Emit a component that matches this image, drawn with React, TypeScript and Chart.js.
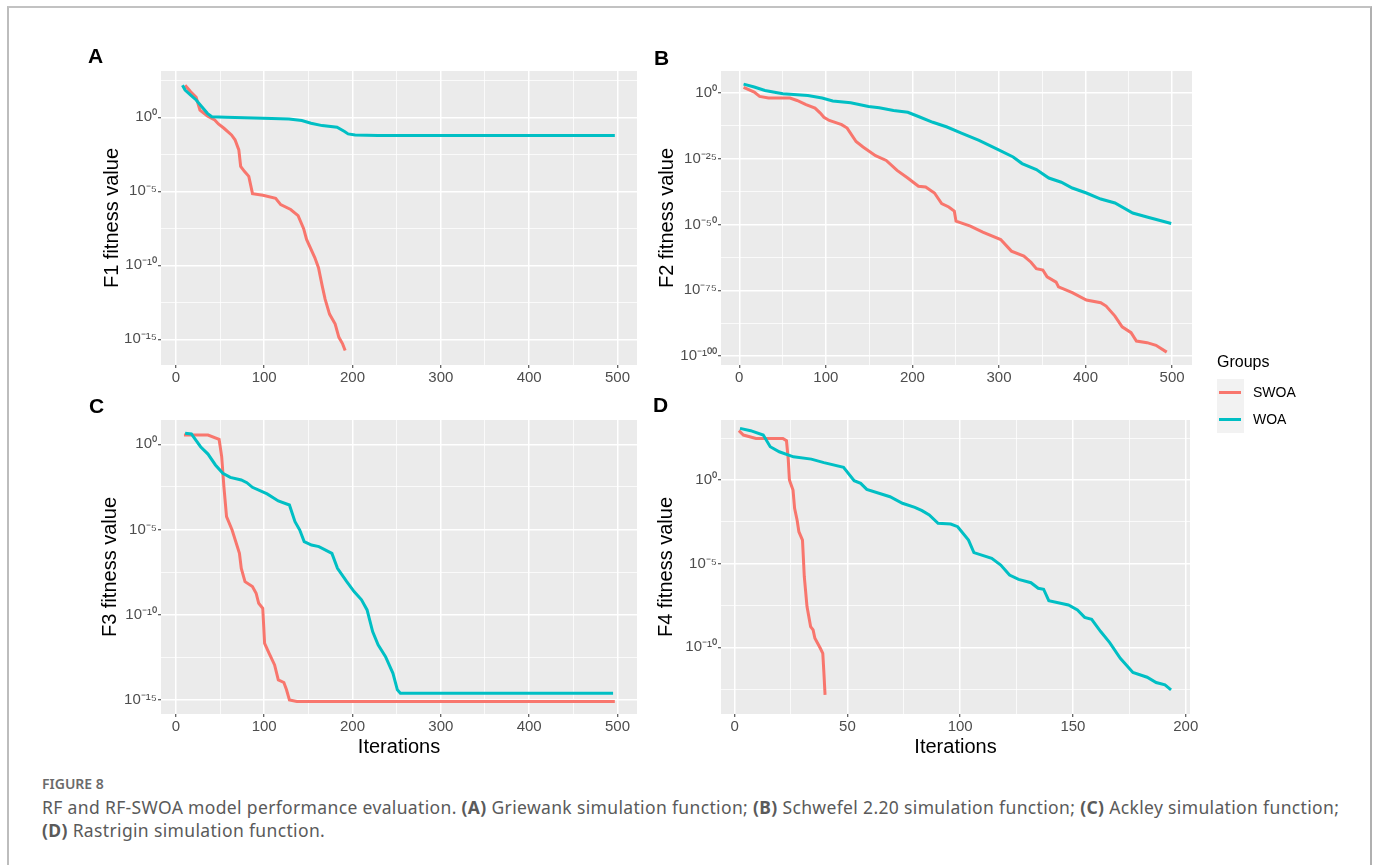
import React, { useEffect, useRef } from 'react';
import { Chart, registerables } from 'chart.js';

Chart.register(...registerables);

const FONT = "'Liberation Sans', Arial, Helvetica, sans-serif";
const CAPTION_FONT = "'Noto Sans', 'Open Sans', sans-serif";
const RED = '#F8766D';
const CYAN = '#00BFC4';
const TICK_COLOR = '#4D4D4D';

// ---------- Panel A : F1 (x = iteration, log10 of fitness) ----------
const f1SwoaIter = [10.5, 16.8, 23, 27.3, 35.7, 44, 48.2, 54.5, 63, 67, 71.3, 73.4, 77.6, 82.6, 86.8, 98.6, 113, 118.7, 130, 138.4, 144.7, 148, 157.3, 161.5, 165.7, 169, 174, 180.4, 184.6, 188.8, 191.7];
const f1SwoaLog = [2.17, 1.73, 1.35, 0.49, 0.09, -0.18, -0.45, -0.74, -1.19, -1.52, -2.2, -3.32, -3.65, -3.99, -5.16, -5.27, -5.47, -5.9, -6.23, -6.64, -7.53, -8.25, -9.48, -10.16, -11.39, -12.29, -13.3, -13.97, -14.87, -15.31, -15.76];
const f1WoaIter = [7.5, 10.5, 16.8, 23, 29.4, 35.7, 40.7, 56.6, 98.6, 128, 142.6, 153, 165.7, 182.5, 191, 195, 203, 228.6, 497];
const f1WoaLog = [2.17, 1.84, 1.5, 1.17, 0.72, 0.27, 0.04, 0.0, -0.07, -0.11, -0.22, -0.4, -0.56, -0.67, -0.96, -1.12, -1.19, -1.23, -1.23];

// ---------- Panel B : F2 ----------
const f2SwoaIter = [5, 17.3, 23.5, 33.8, 58.6, 66.8, 77.1, 87.5, 93.6, 97.8, 104, 118.3, 124.6, 134.9, 143, 157.4, 169.8, 182.3, 194.6, 207, 215.3, 225.5, 233.8, 242, 248.4, 250.4, 267, 281.3, 302, 314.4, 328.8, 337, 343.2, 350.7, 355.6, 366, 368.8, 384.7, 401, 417.6, 423.8, 434, 442.3, 452.6, 458.8, 471.1, 481.4, 493.8];
const f2SwoaLog = [2.15, 0.38, -1.27, -1.9, -1.9, -2.8, -4.4, -5.7, -7.6, -9.2, -10.4, -12.0, -13.3, -18.4, -20.5, -23.8, -25.6, -29.4, -32.3, -35.4, -35.7, -38, -42, -43.3, -44.9, -48.7, -50.6, -52.9, -55.7, -60.1, -62, -64.3, -66.8, -67.3, -69.9, -71.9, -73.7, -75.9, -78.7, -79.7, -81, -84.8, -88.9, -91.1, -94.3, -94.9, -95.9, -98.5];
const f2WoaIter = [5, 17.3, 29.7, 50.3, 79.2, 95.7, 108, 128.7, 149.3, 161.7, 178.2, 194.7, 207, 223.6, 240, 256.6, 277, 297.9, 316.4, 326.7, 343.2, 357.6, 372, 384.7, 401, 417.6, 434, 454.5, 471, 499];
const f2WoaLog = [3.4, 2.3, 1.0, -0.25, -0.9, -1.9, -3.0, -3.7, -5.1, -5.6, -6.6, -7.3, -8.9, -11.1, -12.9, -15.2, -18, -21.3, -24.3, -26.8, -29.1, -32.3, -33.9, -36.1, -38, -40.3, -41.8, -45.6, -47.1, -49.6];

// ---------- Panel C : F3 ----------
const f3SwoaIter = [9.2, 36.4, 49, 51.9, 54.4, 57.4, 63.7, 72, 74.1, 78.3, 86.7, 90.9, 93.8, 98.4, 100.5, 105.5, 111.8, 116, 122.3, 125.3, 128.6, 137, 497];
const f3SwoaLog = [0.55, 0.55, 0.29, -0.72, -2.48, -4.24, -5.03, -6.4, -7.28, -8.06, -8.35, -8.74, -9.33, -9.62, -11.68, -12.26, -12.95, -13.83, -13.98, -14.41, -15.0, -15.1, -15.1];
const f3WoaIter = [10.5, 17.6, 28, 36.4, 44.8, 53.2, 61.6, 74.1, 80.4, 86.7, 103.4, 116, 128.6, 134.9, 140.3, 145.3, 153.6, 162, 176.7, 183, 193.5, 201.8, 210.2, 216.5, 222.8, 229, 237.4, 245.8, 250.8, 254.2, 329.6, 495];
const f3WoaLog = [0.65, 0.61, -0.14, -0.57, -1.21, -1.7, -1.94, -2.09, -2.25, -2.52, -2.91, -3.32, -3.56, -4.54, -5.03, -5.71, -5.91, -6.0, -6.4, -7.28, -8.06, -8.64, -9.13, -9.72, -10.99, -11.77, -12.46, -13.44, -14.41, -14.61, -14.61, -14.61];

// ---------- Panel D : F4 ----------
const f4SwoaIter = [1.9, 3.9, 9.5, 21.4, 23, 23.8, 24.3, 25.9, 26.6, 27.7, 28.5, 30.1, 30.9, 32.1, 33.7, 34.8, 35.6, 38, 39.1, 39.6, 40.1];
const f4SwoaLog = [2.95, 2.69, 2.49, 2.49, 2.35, 1.2, 0, -0.6, -1.69, -2.39, -3.09, -3.59, -5.78, -7.57, -8.76, -8.96, -9.46, -10.06, -10.36, -11.55, -12.85];
const f4WoaIter = [2.4, 7.1, 12.7, 15.8, 19.8, 26.1, 34, 39.6, 48.3, 53, 55.9, 58.6, 68.9, 74.4, 79.9, 83.1, 86.3, 90.2, 95.8, 98.9, 103.7, 106.1, 114, 118, 121.9, 125.9, 131.4, 134.6, 137, 139.3, 148, 152, 155.2, 158.3, 162.3, 166.3, 171, 176.6, 182.9, 186.9, 190.8, 193.5];
const f4WoaLog = [3.09, 2.95, 2.69, 1.99, 1.69, 1.39, 1.25, 1.04, 0.76, -0.04, -0.2, -0.56, -1.0, -1.39, -1.63, -1.83, -2.09, -2.59, -2.63, -2.79, -3.59, -4.34, -4.68, -5.08, -5.68, -5.94, -6.14, -6.47, -6.53, -7.21, -7.47, -7.77, -8.21, -8.33, -9.06, -9.72, -10.66, -11.51, -11.79, -12.11, -12.25, -12.55];

// ---------- Axis ticks ----------
const iterMajor500 = [0, 100, 200, 300, 400, 500];
const iterMinor500 = [50, 150, 250, 350, 450];
const iterMajor200 = [0, 50, 100, 150, 200];
const iterMinor200 = [25, 75, 125, 175];
const f1ExpMajor = [0, -5, -10, -15];
const f1ExpMinor = [2.5, -2.5, -7.5, -12.5];
const f2ExpMajor = [0, -25, -50, -75, -100];
const f2ExpMinor = [-12.5, -37.5, -62.5, -87.5];
const f3ExpMajor = [0, -5, -10, -15];
const f3ExpMinor = [-2.5, -7.5, -12.5];
const f4ExpMajor = [0, -5, -10];
const f4ExpMinor = [2.5, -2.5, -7.5, -12.5];

const legendLabels = ['SWOA', 'WOA'];
const panelLetters = ['A', 'B', 'C', 'D'];

const SUP = '⁰¹²³⁴⁵⁶⁷⁸⁹';
const sup = (n: number) =>
  String(n)
    .split('')
    .map((ch) => (ch === '-' ? '⁻' : SUP[Number(ch)]))
    .join('');

type PanelSpec = {
  left: number; top: number; width: number; height: number;
  pad: { left: number; top: number; right: number; bottom: number };
  yAxisW: number; xAxisH: number;
  xMin: number; xMax: number; xMajor: number[]; xMinor: number[];
  yMinExp: number; yMaxExp: number; yMajor: number[]; yMinor: number[];
  yTitle: string; yTitlePad: number;
  xTitle?: string; xTitlePad?: number;
  swoa: [number[], number[]]; woa: [number[], number[]];
};

const panels: PanelSpec[] = [
  {
    left: 60, top: 60, width: 600, height: 340,
    pad: { left: 0, top: 11, right: 23, bottom: 0 }, yAxisW: 101, xAxisH: 35,
    xMin: -16.8, xMax: 522.1, xMajor: iterMajor500, xMinor: iterMinor500,
    yMinExp: -16.74, yMaxExp: 3.13, yMajor: f1ExpMajor, yMinor: f1ExpMinor,
    yTitle: 'F1 fitness value', yTitlePad: 40,
    swoa: [f1SwoaIter, f1SwoaLog], woa: [f1WoaIter, f1WoaLog],
  },
  {
    left: 640, top: 60, width: 580, height: 340,
    pad: { left: 0, top: 11, right: 28, bottom: 0 }, yAxisW: 81, xAxisH: 35,
    xMin: -21.1, xMax: 523.0, xMajor: iterMajor500, xMinor: iterMinor500,
    yMinExp: -103.4, yMaxExp: 8.4, yMajor: f2ExpMajor, yMinor: f2ExpMinor,
    yTitle: 'F2 fitness value', yTitlePad: 15,
    swoa: [f2SwoaIter, f2SwoaLog], woa: [f2WoaIter, f2WoaLog],
  },
  {
    left: 60, top: 410, width: 600, height: 355,
    pad: { left: 0, top: 10, right: 23, bottom: 0 }, yAxisW: 101, xAxisH: 51,
    xMin: -16.8, xMax: 522.1, xMajor: iterMajor500, xMinor: iterMinor500,
    yMinExp: -15.83, yMaxExp: 1.43, yMajor: f3ExpMajor, yMinor: f3ExpMinor,
    yTitle: 'F3 fitness value', yTitlePad: 38, xTitle: 'Iterations', xTitlePad: 6,
    swoa: [f3SwoaIter, f3SwoaLog], woa: [f3WoaIter, f3WoaLog],
  },
  {
    left: 640, top: 410, width: 580, height: 355,
    pad: { left: 0, top: 10, right: 30, bottom: 0 }, yAxisW: 81, xAxisH: 51,
    xMin: -6.03, xMax: 201.9, xMajor: iterMajor200, xMinor: iterMinor200,
    yMinExp: -13.99, yMaxExp: 3.59, yMajor: f4ExpMajor, yMinor: f4ExpMinor,
    yTitle: 'F4 fitness value', yTitlePad: 14, xTitle: 'Iterations', xTitlePad: 6,
    swoa: [f4SwoaIter, f4SwoaLog], woa: [f4WoaIter, f4WoaLog],
  },
];

const toPoints = (xs: number[], logs: number[]) =>
  xs.map((x, i) => ({ x, y: Math.pow(10, logs[i]) }));

const panelBg = {
  id: 'panelBg',
  beforeDraw(chart: any) {
    const { ctx, chartArea: a } = chart;
    ctx.save();
    ctx.fillStyle = '#EBEBEB';
    ctx.fillRect(a.left, a.top, a.right - a.left, a.bottom - a.top);
    ctx.restore();
  },
};

const gridOpts = {
  color: '#FFFFFF',
  lineWidth: (c: any) => (c.tick && c.tick.isMinor ? 0.75 : 1.5),
  tickColor: (c: any) => (c.tick && c.tick.isMinor ? 'rgba(0,0,0,0)' : '#333333'),
  tickWidth: 1,
  tickLength: 3,
  drawTicks: true,
};

function buildConfig(p: PanelSpec): any {
  const tickFont = { family: FONT, size: 15 };
  return {
    type: 'line',
    data: {
      datasets: [
        {
          label: legendLabels[0],
          data: toPoints(p.swoa[0], p.swoa[1]),
          borderColor: RED,
          backgroundColor: RED,
          borderWidth: 3,
          pointRadius: 0,
          tension: 0,
          fill: false,
          order: 1,
        },
        {
          label: legendLabels[1],
          data: toPoints(p.woa[0], p.woa[1]),
          borderColor: CYAN,
          backgroundColor: CYAN,
          borderWidth: 3,
          pointRadius: 0,
          tension: 0,
          fill: false,
          order: 0,
        },
      ],
    },
    options: {
      responsive: false,
      maintainAspectRatio: false,
      animation: false,
      events: [],
      layout: { autoPadding: false, padding: p.pad },
      plugins: { legend: { display: false }, tooltip: { enabled: false } },
      scales: {
        x: {
          type: 'linear',
          position: 'bottom',
          min: p.xMin,
          max: p.xMax,
          afterBuildTicks: (s: any) => {
            s.ticks = [...p.xMajor, ...p.xMinor]
              .sort((a, b) => a - b)
              .map((v) => ({ value: v, isMinor: p.xMinor.includes(v) }));
          },
          afterFit: (s: any) => {
            s.height = p.xAxisH;
          },
          ticks: {
            autoSkip: false,
            maxRotation: 0,
            minRotation: 0,
            padding: 1,
            color: TICK_COLOR,
            font: tickFont,
            callback: (v: number, i: number, t: any[]) => (t[i] && t[i].isMinor ? '' : String(v)),
          },
          grid: gridOpts,
          border: { display: false },
          title: p.xTitle
            ? {
                display: true,
                text: p.xTitle,
                color: '#000000',
                font: { family: FONT, size: 20 },
                padding: { top: 0, bottom: p.xTitlePad },
              }
            : { display: false },
        },
        y: {
          type: 'logarithmic',
          position: 'left',
          min: Math.pow(10, p.yMinExp),
          max: Math.pow(10, p.yMaxExp),
          afterBuildTicks: (s: any) => {
            s.ticks = [...p.yMajor, ...p.yMinor]
              .sort((a, b) => a - b)
              .map((e) => ({ value: Math.pow(10, e), exp: e, isMinor: p.yMinor.includes(e) }));
          },
          afterFit: (s: any) => {
            s.width = p.yAxisW;
          },
          ticks: {
            autoSkip: false,
            padding: 1,
            color: TICK_COLOR,
            font: tickFont,
            callback: (_v: number, i: number, t: any[]) =>
              t[i] && !t[i].isMinor ? '10' + sup(t[i].exp) : '',
          },
          grid: gridOpts,
          border: { display: false },
          title: {
            display: true,
            text: p.yTitle,
            color: '#000000',
            font: { family: FONT, size: 20 },
            padding: { top: p.yTitlePad, bottom: 0 },
          },
        },
      },
    },
    plugins: [panelBg],
  };
}

function Panel({ spec }: { spec: PanelSpec }) {
  const ref = useRef<HTMLCanvasElement | null>(null);
  useEffect(() => {
    if (!ref.current) return;
    const chart = new Chart(ref.current, buildConfig(spec));
    return () => chart.destroy();
  }, [spec]);
  return (
    <div style={{ position: 'absolute', left: spec.left, top: spec.top, width: spec.width, height: spec.height }}>
      <canvas ref={ref} width={spec.width} height={spec.height} style={{ width: spec.width, height: spec.height, display: 'block' }} />
    </div>
  );
}

const letterPos = [
  { left: 88, top: 45 },
  { left: 654, top: 47 },
  { left: 89, top: 395 },
  { left: 653, top: 394 },
];

export default function App() {
  return (
    <div
      style={{
        position: 'absolute',
        left: 0,
        top: 0,
        width: 1375,
        height: 865,
        overflow: 'hidden',
        background: '#FFFFFF',
      }}
    >
      <div
        style={{
          position: 'absolute',
          left: 7,
          top: 6,
          width: 1361,
          height: 900,
          borderTop: '2px solid #C2C2C2',
          borderLeft: '2px solid #BDBDBD',
          borderRight: '2px solid #B0B0B0',
        }}
      />
      {panels.map((p, i) => (
        <Panel key={i} spec={p} />
      ))}
      {panelLetters.map((L, i) => (
        <div
          key={L}
          style={{
            position: 'absolute',
            left: letterPos[i].left,
            top: letterPos[i].top,
            fontFamily: FONT,
            fontWeight: 700,
            fontSize: 21,
            lineHeight: '21px',
            color: '#000',
          }}
        >
          {L}
        </div>
      ))}
      {/* Legend */}
      <div style={{ position: 'absolute', left: 1217, top: 352, fontFamily: FONT, fontSize: 16, lineHeight: '20px', color: '#000' }}>
        Groups
      </div>
      <div style={{ position: 'absolute', left: 1217, top: 379, width: 27, height: 54, background: '#F2F2F2' }} />
      {legendLabels.map((lab, i) => (
        <React.Fragment key={lab}>
          <div
            style={{
              position: 'absolute',
              left: 1219,
              top: 391 + i * 27,
              width: 22,
              height: 3,
              background: i === 0 ? RED : CYAN,
            }}
          />
          <div
            style={{
              position: 'absolute',
              left: 1253,
              top: 383 + i * 27,
              fontFamily: FONT,
              fontSize: 14,
              lineHeight: '18px',
              color: '#000',
            }}
          >
            {lab}
          </div>
        </React.Fragment>
      ))}
      {/* Caption */}
      <div
        style={{
          position: 'absolute',
          left: 42,
          top: 775,
          fontFamily: CAPTION_FONT,
          fontWeight: 600,
          fontSize: 14,
          lineHeight: '18px',
          color: '#6B6B6B',
          whiteSpace: 'nowrap',
        }}
      >
        FIGURE 8
      </div>
      <div
        style={{
          position: 'absolute',
          left: 42,
          top: 796,
          fontFamily: CAPTION_FONT,
          fontSize: 17.5,
          letterSpacing: '0.35px',
          lineHeight: '23.3px',
          color: '#5A5A5A',
          whiteSpace: 'nowrap',
        }}
      >
        <div>
          RF and RF-SWOA model performance evaluation. <b>(A)</b> Griewank simulation function; <b>(B)</b> Schwefel 2.20
          simulation function; <b>(C)</b> Ackley simulation function;
        </div>
        <div>
          <b>(D)</b> Rastrigin simulation function.
        </div>
      </div>
    </div>
  );
}
